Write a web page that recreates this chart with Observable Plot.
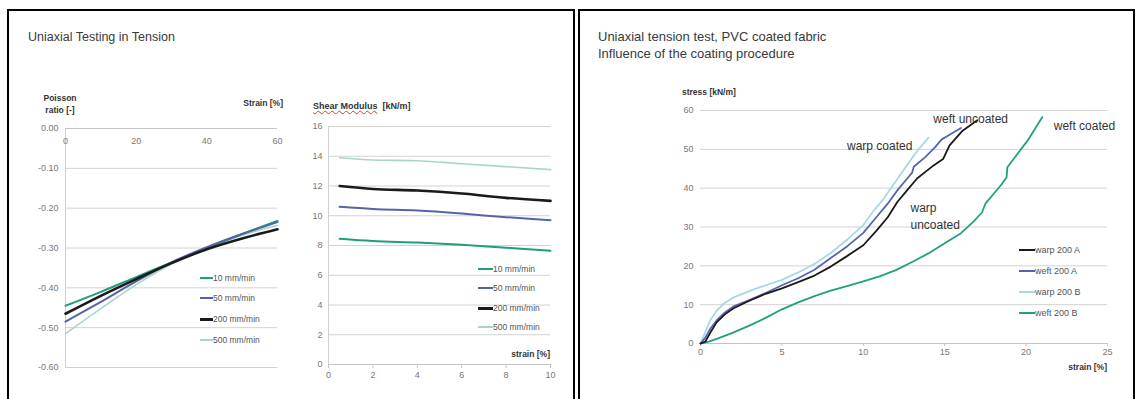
<!DOCTYPE html>
<html><head><meta charset="utf-8">
<script src="https://cdn.jsdelivr.net/npm/d3@7"></script>
<script src="https://cdn.jsdelivr.net/npm/@observablehq/plot@0.6"></script>
<style>
body{margin:0;background:#fff;font-family:"Liberation Sans",Arial,sans-serif;}
#page{position:relative;width:1137px;height:399px;overflow:hidden;background:#fff;}
.abs{position:absolute;white-space:nowrap;line-height:1.15;}
.panel{position:absolute;border:2px solid #000;box-sizing:border-box;}
.chart{position:absolute;top:0;}
.lg{position:absolute;display:flex;align-items:center;white-space:nowrap;color:#555;}
.lg span.sw{display:inline-block;}
</style></head><body><div id="page"></div>
<script>
// ---------- Data: Poisson ratio vs strain ----------
const rates = ["10 mm/min", "50 mm/min", "200 mm/min", "500 mm/min"];
const poissonStrain = [0, 10, 20, 30, 40, 50, 60];
const poisson10  = [-0.445, -0.410, -0.373, -0.336, -0.300, -0.265, -0.232];
const poisson50  = [-0.485, -0.435, -0.384, -0.336, -0.298, -0.265, -0.235];
const poisson200 = [-0.465, -0.420, -0.378, -0.338, -0.303, -0.276, -0.253];
const poisson500 = [-0.515, -0.452, -0.392, -0.340, -0.300, -0.268, -0.243];
const poissonYTicks = [0, -0.1, -0.2, -0.3, -0.4, -0.5, -0.6];
const poissonXTicks = [0, 20, 40, 60];

// ---------- Data: Shear modulus vs strain ----------
const shearStrain = [0.5, 2, 4, 6, 8, 10];
const shear10  = [8.45, 8.30, 8.20, 8.05, 7.85, 7.65];
const shear50  = [10.6, 10.45, 10.35, 10.15, 9.9, 9.7];
const shear200 = [12.0, 11.8, 11.7, 11.5, 11.2, 11.0];
const shear500 = [13.9, 13.75, 13.7, 13.5, 13.3, 13.1];
const shearYTicks = [0, 2, 4, 6, 8, 10, 12, 14, 16];
const shearXTicks = [0, 2, 4, 6, 8, 10];

// ---------- Data: Stress-strain, coating ----------
const tensionSeries = ["warp 200 A", "weft 200 A", "warp 200 B", "weft 200 B"];
const warpA_x = [0, 0.3, 0.7, 1, 1.5, 2, 3, 4, 5, 6, 7, 8, 9, 10, 10.8, 11.5, 12.1, 12.7, 13.3, 14.3, 14.9, 15.3, 16.1, 17];
const warpA_y = [0, 0.5, 3.5, 5.5, 7.5, 9, 11, 12.8, 14.2, 15.8, 17.5, 19.8, 22.5, 25.3, 29, 32.5, 36.5, 39.5, 42.5, 45.8, 47.5, 51, 54.8, 57.5];
const weftA_x = [0, 0.3, 0.6, 1, 1.5, 2, 3, 4, 5, 6, 7, 8, 9, 10, 10.8, 11.5, 12.1, 12.7, 13, 13.1, 13.8, 14.4, 14.8, 15.4, 16];
const weftA_y = [0, 1.5, 3.8, 6, 8, 9.5, 11.2, 13, 15, 16.8, 19, 22, 25, 28.5, 32.5, 36, 39.5, 42.5, 44, 45.5, 48, 50.5, 52.5, 54, 55.5];
const warpB_x = [0, 0.3, 0.6, 1, 1.5, 2, 3, 4, 5, 6, 7, 8, 9, 10, 10.6, 11.2, 11.7, 12.2, 12.7, 13.3, 14];
const warpB_y = [0, 3, 6, 8.5, 10.5, 11.8, 13.5, 15, 16.4, 18.3, 20.5, 23.3, 26.7, 30.5, 34, 37, 40, 43, 46, 49.5, 53];
const weftB_x = [0, 0.5, 1, 2, 3, 4, 5, 6, 7, 8, 9, 10, 11, 12, 13, 14, 15, 16, 16.8, 17.3, 17.5, 18, 18.5, 18.8, 18.85, 19.5, 20.1, 21];
const weftB_y = [0, 0.5, 1.2, 2.8, 4.6, 6.6, 8.8, 10.6, 12.2, 13.6, 14.8, 16, 17.3, 18.9, 21, 23.2, 25.8, 28.4, 31.5, 33.8, 36, 38.5, 41, 42.8, 45.4, 49, 52.3, 58.3];
const tensionYTicks = [0, 10, 20, 30, 40, 50, 60];
const tensionXTicks = [0, 5, 10, 15, 20, 25];
const annLabels = ["weft uncoated", "weft coated", "warp coated", "warp\nuncoated"];
const annX = [14.3, 21.7, 9.0, 12.9];
const annY = [58.2, 56.4, 51.2, 33.1];

// ---------- styles ----------
const rateColors = ["#1f9e7e", "#5563a9", "#1a1a1a", "#a9d6cb"];
const rateWidths = [2, 2, 2.6, 1.6];
const tensionColors = ["#1a1a1a", "#5664ac", "#a8d8e8", "#21a07f"];
const grid = "#d2d2d2";

const page = document.getElementById("page");
function addDiv(cls, css, text){ const d=document.createElement("div"); d.className=cls; Object.assign(d.style, css); if(text!=null) d.textContent=text; page.appendChild(d); return d; }
function label(text, x, yc, opt={}){
  const tx = opt.anchor==="end" ? "-100%" : opt.anchor==="middle" ? "-50%" : "0";
  return addDiv("abs", {left:x+"px", top:yc+"px", transform:`translate(${tx},-50%)`, fontSize:(opt.size||9)+"px", fontWeight:opt.weight||"normal", color:opt.color||"#333", textAlign:opt.align||"left"}, text);
}
function legend(names, colors, widths, x, ys, lineLen, size){
  names.forEach((n,i)=>{
    const d = addDiv("lg", {left:x+"px", top:ys[i]+"px", transform:"translateY(-50%)", fontSize:size+"px"});
    const s=document.createElement("span"); s.className="sw";
    s.style.width=lineLen+"px"; s.style.height=widths[i]+"px"; s.style.background=colors[i];
    d.appendChild(s);
    const t=document.createElement("span"); t.textContent=n; d.appendChild(t);
  });
}

// panels
addDiv("panel", {left:"7px", top:"9px", width:"568px", height:"420px"});
addDiv("panel", {left:"578px", top:"9px", width:"557px", height:"420px"});

// titles
label("Uniaxial Testing in Tension", 28, 37, {size:12.5, color:"#3a3a3a"});
label("Uniaxial tension test, PVC coated fabric", 598, 37, {size:13, color:"#3a3a3a"});
label("Influence of the coating procedure", 598, 54, {size:13, color:"#3a3a3a"});

// ---------- Chart 1 ----------
const rows1 = rates.flatMap((r,i)=>poissonStrain.map((s,j)=>({series:r, strain:s, value:[poisson10,poisson50,poisson200,poisson500][i][j]})));
const c1 = Plot.plot({
  width:290, height:399, marginLeft:65, marginRight:13, marginTop:128, marginBottom:32,
  style:{color:"#777", fontFamily:"Liberation Sans, Arial, sans-serif", fontSize:"9px", background:"transparent"},
  x:{domain:[0,60], axis:null}, y:{domain:[-0.6,0]},
  marks:[
    Plot.ruleY(poissonYTicks.slice(1), {stroke:grid}),
    Plot.ruleX([0], {stroke:grid}),
    Plot.ruleY([0], {stroke:"#c4c4c4"}),
    Plot.axisY(poissonYTicks, {tickSize:0, tickPadding:7, tickFormat:d=>d.toFixed(2), label:null}),
    Plot.text(poissonXTicks, {x:d=>d, y:0, dy:13, text:d=>String(d), fill:"#777", fontSize:9}),
    ...[3,0,1,2].map(i=>Plot.line(rows1.filter(d=>d.series===rates[i]), {x:"strain", y:"value", stroke:rateColors[i], strokeWidth:rateWidths[i], curve:"monotone-x"}))
  ]
});
c1.classList.add("chart"); c1.style.left="0px"; page.appendChild(c1);
label("Poisson", 60, 99, {size:8.5, weight:"bold", anchor:"middle"});
label("ratio [-]", 60, 111, {size:8.5, weight:"bold", anchor:"middle"});
label("Strain [%]", 283, 104, {size:8.5, weight:"bold", anchor:"end"});
legend(rates, rateColors, [2,2,3,2], 200, [278, 298, 319, 340], 13, 8.5);

// ---------- Chart 2 ----------
const rows2 = rates.flatMap((r,i)=>shearStrain.map((s,j)=>({series:r, strain:s, value:[shear10,shear50,shear200,shear500][i][j]})));
const c2 = Plot.plot({
  width:280, height:399, marginLeft:38, marginRight:20, marginTop:126, marginBottom:35,
  style:{color:"#777", fontFamily:"Liberation Sans, Arial, sans-serif", fontSize:"9px", background:"transparent"},
  x:{domain:[0,10]}, y:{domain:[0,16]},
  marks:[
    Plot.ruleY(shearYTicks.slice(1), {stroke:grid}),
    Plot.ruleX([0], {stroke:grid}),
    Plot.ruleY([0], {stroke:"#c4c4c4"}),
    Plot.axisY(shearYTicks, {tickSize:0, tickPadding:6, label:null}),
    Plot.axisX(shearXTicks, {tickSize:4, tickPadding:3, stroke:"#c4c4c4", label:null}),
    ...[3,0,1,2].map(i=>Plot.line(rows2.filter(d=>d.series===rates[i]), {x:"strain", y:"value", stroke:rateColors[i], strokeWidth:rateWidths[i], curve:"monotone-x"}))
  ]
});
c2.classList.add("chart"); c2.style.left="290px"; page.appendChild(c2);
const sm = label("Shear Modulus [kN/m]", 313, 106, {size:9, weight:"bold"});
sm.innerHTML = '<span style="text-decoration:underline wavy #d04040;text-decoration-thickness:1px">Shear Modulus</span> &nbsp;[kN/m]';
label("strain [%]", 550, 355, {size:8.5, weight:"bold", anchor:"end"});
legend(rates, rateColors, [2,2,3,2], 478, [269, 288, 308, 327], 15, 8.5);

// ---------- Chart 3 ----------
const seriesXY = [[warpA_x,warpA_y],[weftA_x,weftA_y],[warpB_x,warpB_y],[weftB_x,weftB_y]];
const rows3 = tensionSeries.flatMap((n,i)=>seriesXY[i][0].map((x,j)=>({series:n, strain:x, stress:seriesXY[i][1][j]})));
const c3 = Plot.plot({
  width:558, height:399, marginLeft:121, marginRight:30, marginTop:110, marginBottom:56,
  style:{color:"#777", fontFamily:"Liberation Sans, Arial, sans-serif", fontSize:"9px", background:"transparent"},
  x:{domain:[0,25]}, y:{domain:[0,60]},
  marks:[
    Plot.ruleY(tensionYTicks.slice(1), {stroke:grid}),
    Plot.ruleY([0], {stroke:"#c4c4c4"}),
    Plot.axisY(tensionYTicks, {tickSize:0, tickPadding:7, label:null}),
    Plot.axisX(tensionXTicks, {tickSize:3, tickPadding:2, stroke:"#c4c4c4", label:null}),
    ...[3,2,1,0].map(i=>Plot.line(rows3.filter(d=>d.series===tensionSeries[i]), {x:"strain", y:"stress", stroke:tensionColors[i], strokeWidth:1.8})),
    Plot.text(annLabels, {x:(d,i)=>annX[i], y:(d,i)=>annY[i], text:d=>d, textAnchor:"start", lineAnchor:"middle", lineHeight:1.4, fill:"#333", fontSize:12})
  ]
});
c3.classList.add("chart"); c3.style.left="579px"; page.appendChild(c3);
label("stress [kN/m]", 682, 93, {size:8.5, weight:"bold"});
label("strain [%]", 1107, 368, {size:8.5, weight:"bold", anchor:"end"});
legend(tensionSeries, tensionColors, [2,2,2,2], 1019, [250, 271, 292, 313], 16, 9);
</script></body></html>
